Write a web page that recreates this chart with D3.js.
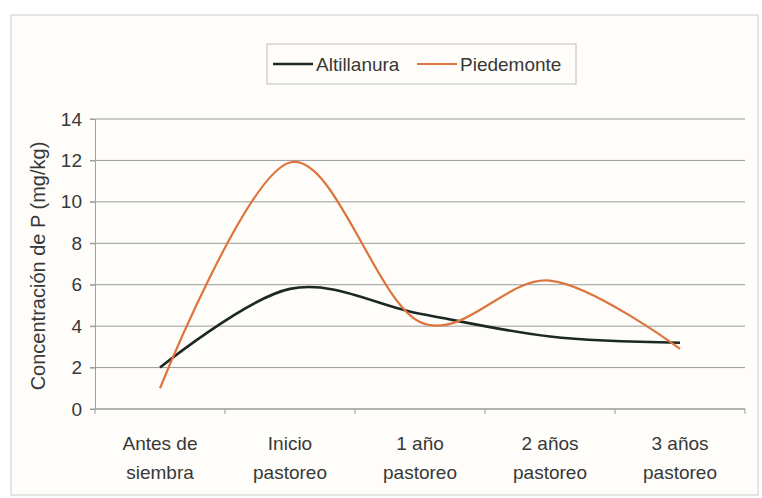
<!DOCTYPE html>
<html>
<head>
<meta charset="utf-8">
<script src="https://cdn.jsdelivr.net/npm/d3@7"></script>
<style>
  body { margin: 0; background: #fff; }
  text { font-family: "Liberation Sans", Arial, sans-serif; fill: #383838; }
</style>
</head>
<body>
<div id="chart"></div>
<script>
// data
const categories = ["Antes de|siembra", "Inicio|pastoreo", "1 año|pastoreo", "2 años|pastoreo", "3 años|pastoreo"];
const altillanura = [2.0, 5.8, 4.6, 3.5, 3.2];
const piedemonte = [1.0, 11.9, 4.2, 6.2, 2.9];
const yTicks = [0, 2, 4, 6, 8, 10, 12, 14];
const seriesNames = ["Altillanura", "Piedemonte"];
const seriesColors = ["#1c2824", "#dd743e"];

const width = 762, height = 498;
const margin = {top: 119, right: 17, bottom: 89, left: 95};

const svg = d3.select("#chart").append("svg")
  .attr("width", width)
  .attr("height", height);

// chart area frame
svg.append("rect")
  .attr("x", 11).attr("y", 15)
  .attr("width", 747).attr("height", 480)
  .attr("fill", "#fefdf9")
  .attr("stroke", "#d4d4d0")
  .attr("stroke-width", 1.2);

const x = d3.scaleBand()
  .domain(categories)
  .range([margin.left, width - margin.right]);

const y = d3.scaleLinear()
  .domain([0, 14])
  .range([height - margin.bottom, margin.top]);

// gridlines
svg.append("g")
  .selectAll("line")
  .data(yTicks)
  .enter().append("line")
  .attr("x1", margin.left - 5)
  .attr("x2", width - margin.right)
  .attr("y1", d => y(d))
  .attr("y2", d => y(d))
  .attr("stroke", "#9a9a9a")
  .attr("stroke-width", 1);

// y axis
const yAxis = svg.append("g")
  .attr("transform", `translate(${margin.left},0)`)
  .call(d3.axisLeft(y).tickValues(yTicks).tickSize(5).tickPadding(8));
yAxis.select(".domain").attr("stroke", "#a0a0a0");
yAxis.selectAll(".tick line").attr("stroke", "#9a9a9a");
yAxis.selectAll("text")
  .style("font-size", "19px")
  .attr("fill", "#383838");

// x axis (ticks between categories)
const xAxisG = svg.append("g")
  .attr("transform", `translate(0,${y(0)})`);
xAxisG.append("line")
  .attr("x1", margin.left).attr("x2", width - margin.right)
  .attr("stroke", "#9a9a9a");
xAxisG.selectAll("line.tk")
  .data(categories.concat(["end"]))
  .enter().append("line")
  .attr("class", "tk")
  .attr("x1", (d, i) => i < categories.length ? x(d) : x(categories[i - 1]) + x.bandwidth())
  .attr("x2", (d, i) => i < categories.length ? x(d) : x(categories[i - 1]) + x.bandwidth())
  .attr("y1", 0).attr("y2", 5)
  .attr("stroke", "#9a9a9a");

const xLabels = xAxisG.selectAll("text.cat")
  .data(categories)
  .enter().append("text")
  .attr("class", "cat")
  .attr("text-anchor", "middle")
  .attr("x", d => x(d) + x.bandwidth() / 2)
  .style("font-size", "19px");
xLabels.each(function(d) {
  const parts = d.split("|");
  d3.select(this).selectAll("tspan")
    .data(parts)
    .enter().append("tspan")
    .attr("x", x(d) + x.bandwidth() / 2)
    .attr("y", (p, i) => 41 + i * 29)
    .text(p => p);
});

// y axis title
svg.append("text")
  .attr("transform", `translate(45,${y(7) + 2}) rotate(-90)`)
  .attr("text-anchor", "middle")
  .style("font-size", "20px")
  .text("Concentración de P (mg/kg)");

// lines
const line = d3.line()
  .x((d, i) => x(categories[i]) + x.bandwidth() / 2)
  .y(d => y(d))
  .curve(d3.curveCardinal.tension(0));

svg.append("path")
  .datum(altillanura)
  .attr("d", line)
  .attr("fill", "none")
  .attr("stroke", seriesColors[0])
  .attr("stroke-width", 2.6);

svg.append("path")
  .datum(piedemonte)
  .attr("d", line)
  .attr("fill", "none")
  .attr("stroke", seriesColors[1])
  .attr("stroke-width", 2.2);

// legend
const legend = svg.append("g");
legend.append("rect")
  .attr("x", 267).attr("y", 44)
  .attr("width", 309).attr("height", 40)
  .attr("fill", "#fefdf9")
  .attr("stroke", "#bdbdbd");

const legendX = [273, 417];
seriesNames.forEach(function(name, i) {
  legend.append("line")
    .attr("x1", legendX[i]).attr("x2", legendX[i] + 40)
    .attr("y1", 64).attr("y2", 64)
    .attr("stroke", seriesColors[i])
    .attr("stroke-width", i === 0 ? 2.6 : 2.2);
  legend.append("text")
    .attr("x", legendX[i] + 43)
    .attr("y", 71)
    .style("font-size", "19px")
    .text(name);
});
</script>
</body>
</html>
